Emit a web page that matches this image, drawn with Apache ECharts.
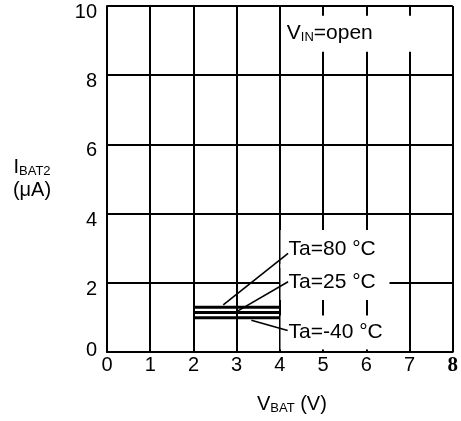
<!DOCTYPE html>
<html>
<head>
<meta charset="utf-8">
<script src="https://cdn.jsdelivr.net/npm/echarts@6/dist/echarts.min.js"></script>
<style>
  html, body { margin: 0; padding: 0; background: #fff; }
  #chart { width: 461px; height: 421px; }
</style>
</head>
<body>
<div id="chart"></div>
<script>
// 数据
const vbatRange = [2, 4];
const seriesNames = ['Ta=80 °C', 'Ta=25 °C', 'Ta=-40 °C'];
const ibatValues = [1.29, 1.14, 0.99];
// 引线: [起点, 终点] (数据坐标)
const leaders = [
  [[2.69, 1.36], [4.19, 2.85]],
  [[3.03, 1.19], [4.19, 2.03]],
  [[3.34, 0.92], [4.18, 0.62]]
];
// 标注文字位置 (文字左端, 中心)
const notePos = [[4.2, 2.98], [4.2, 2.02], [4.2, 0.56]];
const condText = 'V{sub|IN}=open';
const condPos = [4.16, 9.2];

const font = 'Liberation Sans, Arial, sans-serif';
const chart = echarts.init(document.getElementById('chart'));

const series = [];
// 三条曲线
ibatValues.forEach(function (v, i) {
  series.push({
    name: seriesNames[i],
    type: 'line',
    data: [[vbatRange[0], v], [vbatRange[1], v]],
    symbol: 'none',
    lineStyle: { color: '#000', width: 3 },
    z: 5,
    silent: true
  });
});
// 标注 (白底遮住网格)
const noteBox = [
  { padding: [8, 0, 8, 8], width: 101 },
  { padding: [7, 0, 7, 8], width: 101 },
  { padding: [6, 0, 6, 8], width: 106 }
];
series.push({
  type: 'scatter',
  symbolSize: 0,
  z: 3,
  silent: true,
  itemStyle: { opacity: 1 },
  data: notePos.map(function (p, i) {
    return {
      value: p,
      label: {
        show: true,
        formatter: seriesNames[i],
        position: [-noteBox[i].padding[3], 0],
        align: 'left',
        verticalAlign: 'middle',
        backgroundColor: '#fff',
        padding: noteBox[i].padding,
        width: noteBox[i].width,
        color: '#000',
        opacity: 1,
        textBorderWidth: 0,
        fontSize: 21,
        lineHeight: 22,
        fontFamily: font
      }
    };
  }).concat([{
    value: condPos,
    label: {
      show: true,
      formatter: condText,
      position: [-3, 0],
      align: 'left',
      verticalAlign: 'middle',
      backgroundColor: '#fff',
      padding: [7, 0, 7, 3],
      width: 160,
      color: '#000',
      opacity: 1,
      textBorderWidth: 0,
      fontSize: 21,
      lineHeight: 22,
      fontFamily: font,
      rich: {
        sub: { fontSize: 13, fontFamily: font, color: '#000', textBorderWidth: 0, padding: [8, 0, 0, 0] }
      }
    }
  }])
});
// 引线
leaders.forEach(function (seg) {
  series.push({
    type: 'line',
    data: seg,
    symbol: 'none',
    lineStyle: { color: '#000', width: 1.6 },
    z: 6,
    silent: true
  });
});

const option = {
  animation: false,
  backgroundColor: '#fff',
  grid: { left: 107, top: 6, right: 8, bottom: 69 },
  xAxis: {
    type: 'value',
    min: 0,
    max: 8,
    interval: 1,
    name: 'V{sub|BAT} (V)',
    nameLocation: 'middle',
    nameGap: 42,
    nameTextStyle: {
      color: '#000', fontSize: 20, fontFamily: font, padding: [0, 0, 0, 24],
      rich: { sub: { fontSize: 13, fontFamily: font, color: '#000', padding: [8, 0, 0, 0] } }
    },
    axisLine: { lineStyle: { color: '#000', width: 2 } },
    axisTick: { show: false },
    axisLabel: {
      color: '#000', fontSize: 20, fontFamily: font, margin: 3,
      formatter: function (v) { return v === 8 ? '{b|8}' : String(v); },
      rich: { b: { fontFamily: 'Liberation Serif, serif', fontWeight: 'bold', fontSize: 21, color: '#000' } }
    },
    splitLine: { show: true, lineStyle: { color: '#000', width: 2 } }
  },
  yAxis: {
    type: 'value',
    min: 0,
    max: 10,
    interval: 2,
    name: '{m|I}{sub|BAT2}\n{m|(μA)}',
    nameLocation: 'middle',
    nameRotate: 0,
    nameGap: 75,
    nameTextStyle: {
      color: '#000', fontSize: 20, fontFamily: font, align: 'center',
      rich: {
        m: { fontSize: 20, fontFamily: font, color: '#000', lineHeight: 23 },
        sub: { fontSize: 13, fontFamily: font, color: '#000', padding: [8, 0, 0, 0] }
      }
    },
    axisLine: { show: true, lineStyle: { color: '#000', width: 2 } },
    axisTick: { show: false },
    axisLabel: {
      color: '#000', fontSize: 20, fontFamily: font, margin: 10,
      formatter: function (v) { return v === 0 ? '{z|0}' : '{n|' + v + '}'; },
      rich: {
        n: { fontSize: 20, fontFamily: font, color: '#000', padding: [13, 0, 0, 0] },
        z: { fontSize: 20, fontFamily: font, color: '#000', padding: [0, 0, 4, 0] }
      }
    },
    splitLine: { show: true, lineStyle: { color: '#000', width: 2 } }
  },
  series: series
};
chart.setOption(option);
</script>
</body>
</html>
